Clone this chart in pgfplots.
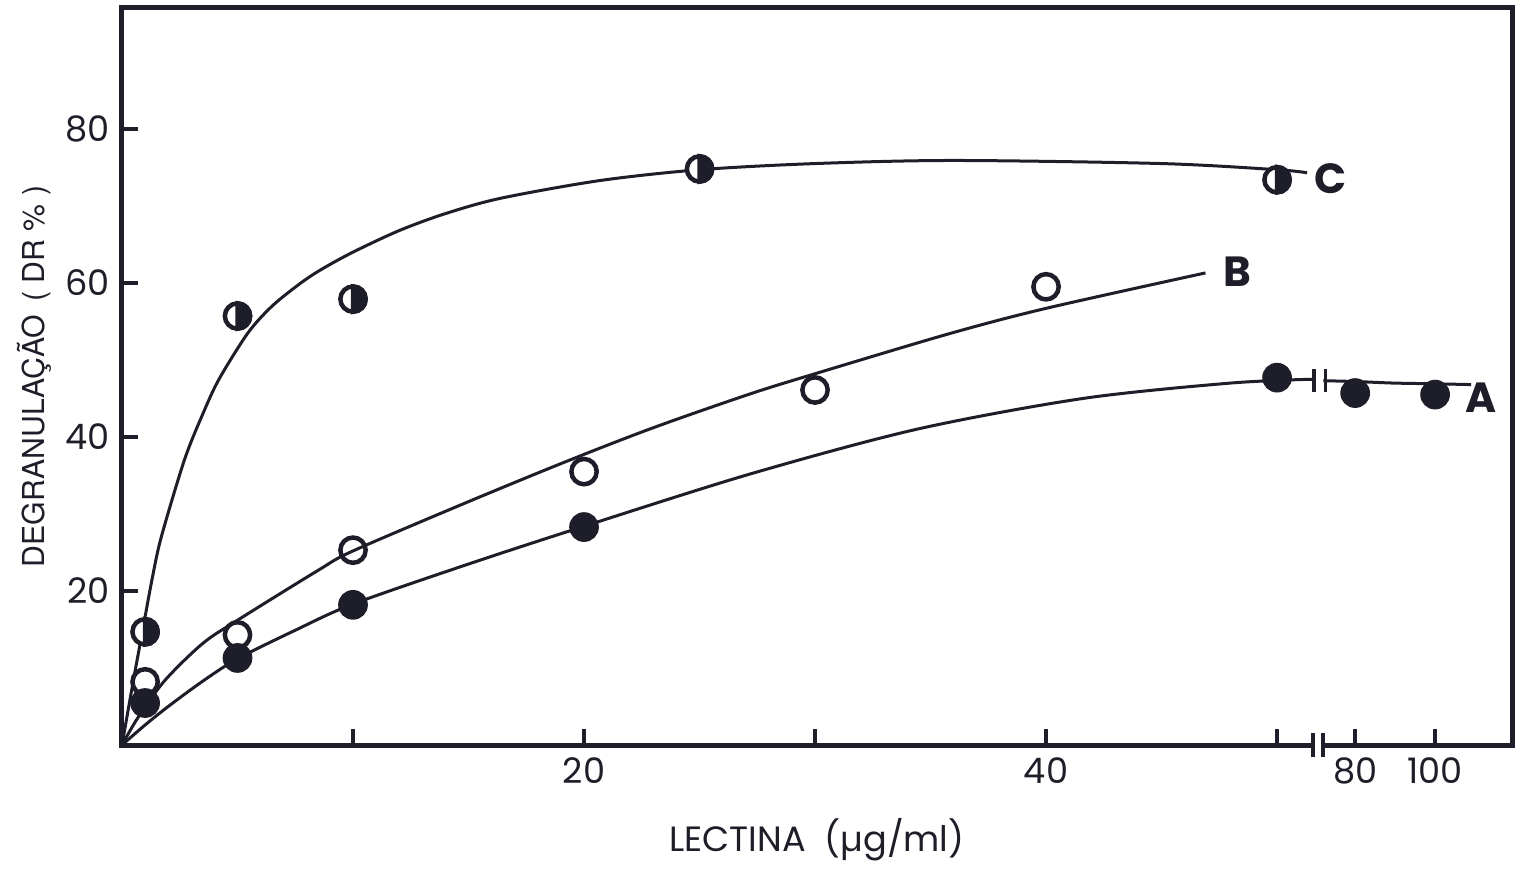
\documentclass[border=0pt]{standalone}
\usepackage{pgfplots}
\pgfplotsset{compat=1.18}
\usepackage{fontspec}
\setmainfont{Poppins}
\newfontfamily\labfont{TeX Gyre Heros}
\definecolor{ink}{RGB}{30,30,42}

% half-filled circle: left half open, right half filled
\pgfdeclareplotmark{halfo}{%
  \pgfpathcircle{\pgfpointorigin}{\pgfplotmarksize}%
  \pgfsetfillcolor{white}\pgfusepathqfillstroke
  \pgfpathmoveto{\pgfqpoint{0pt}{\pgfplotmarksize}}%
  \pgfpatharc{90}{-90}{\pgfplotmarksize}%
  \pgfpathclose
  \pgfsetfillcolor{ink}\pgfusepathqfillstroke}

\begin{document}
\begin{tikzpicture}
\begin{axis}[
  scale only axis,
  width=13.9cm, height=7.37cm,
  xmin=0, xmax=60.17, ymin=0, ymax=95.7,
  axis line style={line width=0.5mm, ink},
  tick pos=left, tick align=inside,
  major tick length=1.6mm,
  tick style={line width=0.35mm, ink},
  xtick={10,20,30,40,50,53.38,56.84},
  xticklabels={,20,,40,,80,100},
  ytick={20,40,60,80},
  ticklabel style={font=\fontsize{10}{10}\selectfont, text=ink},
  /pgf/number format/assume math mode=true,
  xlabel={LECTINA\ \ (µg/ml)},
  ylabel={\labfont DEGRANULAÇÃO \,( DR \% )},
  xlabel style={font=\fontsize{10}{10}\selectfont, text=ink, yshift=-1mm},
  ylabel style={font=\fontsize{8.6}{8.6}\selectfont, text=ink, yshift=-1mm},
  clip=false,
]
% curve A (before and after the break)
\addplot[ink, line width=0.3mm, smooth, tension=0.5] coordinates {
  (0,0) (1,2.6) (2,5.0) (3.5,8.3) (5,11.2) (7.5,14.9) (10,18.3) (15,23.5) (20,28.4) (27.2,35.2) (34.4,41) (41.6,45) (48,47) (51.6,47.5)};
\addplot[ink, line width=0.3mm, smooth] coordinates {
  (52.0,47.3) (53.38,47.2) (55,47.0) (56.84,46.9) (58.4,46.8)};
% curve B
\addplot[ink, line width=0.3mm, smooth, tension=0.5] coordinates {
  (0,0) (0.7,3.6) (1.86,8.4) (3.5,13.2) (5,16.2) (8.5,22.7) (10,25.2) (15,31.6) (19.3,36.9) (23,41.2) (27.2,45.6) (30.1,48.3) (35.8,53.4) (40,56.7) (46.9,61.3)};
% curve C
\addplot[ink, line width=0.3mm, smooth, tension=0.5] coordinates {
  (0,0) (0.5,8.5) (0.9,15) (1.3,21.5) (1.7,27) (2.7,37) (3.5,43) (4.2,47.5) (5.45,53.5) (6.5,57) (7.7,59.9) (8.6,61.7) (10,64) (12,66.8) (14,69) (16.4,71) (20.7,73.3) (25,74.7) (30,75.5) (36,75.9) (45,75.5) (50,74.7) (51.3,74.3)};

% data points A (filled)
\addplot[only marks, mark=*, mark size=3.8pt, mark options={fill=ink, draw=ink, line width=0.3mm}] coordinates {
  (1,5.45) (5,11.3) (10,18.2) (20,28.3) (50,47.7) (53.38,45.7) (56.84,45.5)};
% data points B (open)
\addplot[only marks, mark=o, mark size=3.6pt, mark options={fill=white, draw=ink, line width=0.45mm}] coordinates {
  (1,8.2) (5,14.3) (10,25.3) (20,35.5) (30,46.1) (40,59.5)};
% data points C (half filled)
\addplot[only marks, mark=halfo, mark size=3.6pt, mark options={draw=ink, line width=0.45mm}] coordinates {
  (1,14.7) (5,55.7) (10,57.9) (25,74.8) (50,73.4)};

% axis break on x axis
\fill[white] (axis cs:51.6,-1.2) rectangle (axis cs:51.95,1.2);
\draw[ink, line width=0.35mm] (axis cs:51.55,-1.6) -- (axis cs:51.55,1.6);
\draw[ink, line width=0.35mm] (axis cs:51.98,-1.6) -- (axis cs:51.98,1.6);
% break on curve A
\draw[ink, line width=0.35mm] (axis cs:51.6,45.9) -- (axis cs:51.6,48.8);
\draw[ink, line width=0.35mm] (axis cs:52.1,45.9) -- (axis cs:52.1,48.8);

% curve labels
\node[font=\bfseries\fontsize{12}{12}\selectfont, text=ink] at (axis cs:58.85,45.1) {A};
\node[font=\bfseries\fontsize{12}{12}\selectfont, text=ink] at (axis cs:48.3,61.4) {B};
\node[font=\bfseries\fontsize{12}{12}\selectfont, text=ink] at (axis cs:52.3,73.6) {C};

% page extent to match the reference proportions
\path (current axis.south west) ++(-12.2mm,-11.3mm) coordinate (bbl);
\path (current axis.north east) ++(1.4mm,0.8mm) coordinate (btr);
\end{axis}
\path (bbl) rectangle (btr);
\end{tikzpicture}
\end{document}
